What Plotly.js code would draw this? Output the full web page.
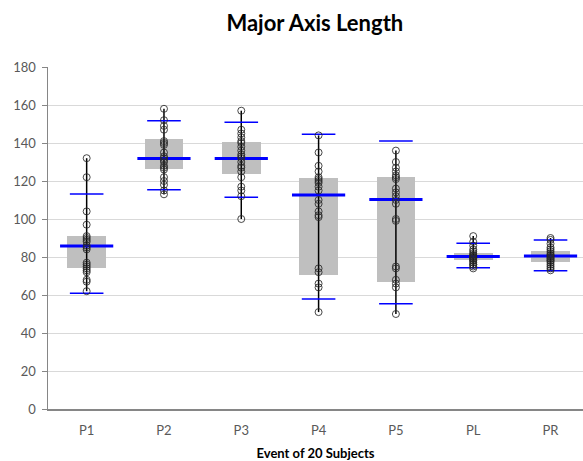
<!DOCTYPE html>
<html>
<head>
<meta charset="utf-8">
<script src="https://cdn.plot.ly/plotly-3.0.1.min.js"></script>
<style>html,body{margin:0;padding:0;background:#fff;}#chart{width:583px;height:461px;}</style>
</head>
<body>
<div id="chart"></div>
<script>
const categories = ["P1", "P2", "P3", "P4", "P5", "PL", "PR"];
const q1Values = [74.2, 126.2, 123.7, 70.5, 66.7, 78.4, 77.5];
const q3Values = [91.1, 141.9, 140.7, 121.4, 121.9, 82.0, 83.2];
const medianValues = [85.8, 131.9, 131.9, 112.6, 110.3, 80.2, 80.5];
const capLowValues = [60.9, 115.4, 111.4, 57.9, 55.4, 74.4, 72.8];
const capHighValues = [113.2, 151.7, 150.9, 144.6, 141.0, 87.2, 88.9];
const pointsP1 = [132, 122, 104, 97, 91, 90, 89, 88, 86, 85, 84, 77, 76, 75, 74, 73, 72, 68, 67, 62];
const pointsP2 = [158, 152, 149, 147, 141, 140, 139, 135, 133, 132, 131, 130, 128, 127, 126, 122, 120, 118, 115, 113];
const pointsP3 = [157, 147, 145, 143, 141, 140, 138, 136, 134, 133, 132, 130, 128, 127, 125, 122, 117, 115, 112, 100];
const pointsP4 = [144, 135, 128, 125, 122, 121, 120, 119, 117, 115, 110, 108, 104, 102, 101, 74, 72, 66, 64, 51];
const pointsP5 = [136, 130, 127, 125, 123, 122, 121, 116, 114, 112, 110, 108, 100, 99, 75, 74, 68, 66, 64, 50];
const pointsPL = [91, 88, 86, 84, 83, 82, 81, 81, 80, 80, 80, 79, 79, 78, 78, 77, 76, 76, 75, 74];
const pointsPR = [90, 89, 87, 85, 84, 83, 82, 81, 81, 80, 80, 79, 79, 78, 78, 77, 76, 75, 74, 73];
const yTicks = [0, 20, 40, 60, 80, 100, 120, 140, 160, 180];

const allPoints = [pointsP1, pointsP2, pointsP3, pointsP4, pointsP5, pointsPL, pointsPR];

const boxTrace = {
  type: 'bar', x: categories,
  base: q1Values,
  y: q3Values.map((v, i) => v - q1Values[i]),
  width: 0.5,
  marker: {color: '#bfbfbf', line: {width: 0}},
  hoverinfo: 'skip', showlegend: false
};

const lx = [], ly = [];
allPoints.forEach((pts, i) => {
  lx.push(categories[i], categories[i], null);
  ly.push(Math.min(...pts), Math.max(...pts), null);
});
const rangeTrace = {
  type: 'scatter', mode: 'lines', x: lx, y: ly,
  line: {color: '#000', width: 1.5}, hoverinfo: 'skip', showlegend: false
};

const capTrace = {
  type: 'scatter', mode: 'markers',
  x: categories.concat(categories),
  y: capLowValues.concat(capHighValues),
  marker: {symbol: 'line-ew', size: 24, line: {color: '#0000ff', width: 1.5}},
  hoverinfo: 'skip', showlegend: false
};

const medTrace = {
  type: 'scatter', mode: 'markers',
  x: categories, y: medianValues,
  marker: {symbol: 'line-ew', size: 38, line: {color: '#0000ff', width: 3}},
  hoverinfo: 'skip', showlegend: false
};

const px = [], py = [];
allPoints.forEach((pts, i) => pts.forEach(v => { px.push(categories[i]); py.push(v); }));
const ptTrace = {
  type: 'scatter', mode: 'markers', x: px, y: py,
  marker: {symbol: 'circle-open', size: 7, color: 'rgba(40,40,40,0.85)', line: {width: 1}},
  hoverinfo: 'skip', showlegend: false
};

const layout = {
  width: 583, height: 461,
  margin: {l: 48, r: 0, t: 67, b: 52},
  paper_bgcolor: '#fff', plot_bgcolor: '#fff',
  font: {family: 'Lato, "Open Sans", sans-serif', color: '#595959', size: 13},
  title: {text: '<b>Major Axis Length</b>', x: 0.54, xanchor: 'center', y: 0.95, yanchor: 'middle',
          font: {size: 22, color: '#000', family: 'Lato, "Open Sans", sans-serif'}},
  showlegend: false,
  bargap: 0,
  xaxis: {
    type: 'category', categoryarray: categories, range: [-0.5, 6.42],
    showline: true, linecolor: '#868686', linewidth: 1.5,
    ticks: '', showgrid: false, zeroline: false, ticklabelstandoff: 9,
    tickfont: {size: 13, color: '#595959'},
    title: {text: '<b>Event of 20 Subjects</b>', standoff: 20, font: {size: 13, color: '#000'}}
  },
  yaxis: {
    range: [0, 180], tickvals: yTicks, ticktext: yTicks.map(String),
    showline: true, linecolor: '#868686', linewidth: 1.5,
    ticks: 'outside', ticklen: 5, tickcolor: '#868686', ticklabelstandoff: 3,
    showgrid: true, gridcolor: '#d9d9d9', gridwidth: 1, zeroline: false,
    tickfont: {size: 13, color: '#595959'}
  }
};

Plotly.newPlot('chart', [boxTrace, rangeTrace, capTrace, medTrace, ptTrace], layout, {staticPlot: true});
</script>
</body>
</html>
